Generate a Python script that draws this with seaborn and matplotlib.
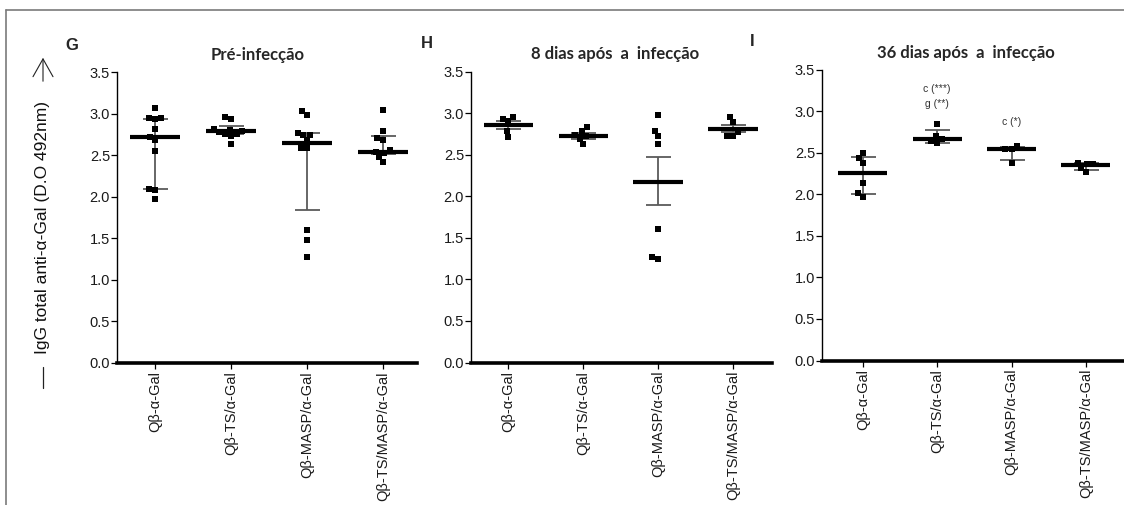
import numpy as np
import pandas as pd
import matplotlib
matplotlib.use("Agg")
import matplotlib.pyplot as plt
import seaborn as sns
from matplotlib.lines import Line2D
from matplotlib.patches import FancyArrowPatch

# ---------------- data ----------------
categories = ["Qβ-α-Gal", "Qβ-TS/α-Gal", "Qβ-MASP/α-Gal", "Qβ-TS/MASP/α-Gal"]

g_vals = [[3.07, 2.95, 2.95, 2.94, 2.82, 2.72, 2.68, 2.55, 2.09, 2.08, 1.97],
          [2.96, 2.93, 2.81, 2.80, 2.79, 2.78, 2.76, 2.75, 2.73, 2.64],
          [3.03, 2.98, 2.77, 2.74, 2.74, 2.68, 2.58, 2.58, 1.60, 1.48, 1.27],
          [3.04, 2.79, 2.71, 2.68, 2.56, 2.54, 2.53, 2.48, 2.42]]
g_center = [2.72, 2.79, 2.65, 2.54]
g_low = [2.09, 2.76, 1.84, 2.51]
g_high = [2.94, 2.85, 2.77, 2.73]

h_vals = [[2.95, 2.93, 2.90, 2.78, 2.71],
          [2.83, 2.78, 2.74, 2.72, 2.69, 2.63],
          [2.98, 2.78, 2.72, 2.63, 1.60, 1.27, 1.24],
          [2.95, 2.89, 2.77, 2.73, 2.73]]
h_center = [2.86, 2.73, 2.17, 2.81]
h_low = [2.81, 2.69, 1.89, 2.77]
h_high = [2.90, 2.76, 2.47, 2.86]

i_vals = [[2.50, 2.43, 2.37, 2.13, 2.01, 1.97],
          [2.84, 2.70, 2.67, 2.64, 2.62],
          [2.58, 2.54, 2.54, 2.37],
          [2.38, 2.36, 2.36, 2.32, 2.27]]
i_center = [2.25, 2.67, 2.54, 2.35]
i_low = [2.00, 2.62, 2.41, 2.29]
i_high = [2.45, 2.77, 2.57, 2.38]

titles = ["Pré-infecção", "8 dias após  a  infecção", "36 dias após  a  infecção"]
letters = ["G", "H", "I"]
y_ticks = [0.0, 0.5, 1.0, 1.5, 2.0, 2.5, 3.0, 3.5]
ylabel = "IgG total anti-α-Gal (D.O 492nm)"
annot_texts = ["c (***)", "g (**)", "c (*)"]
annot_cat = [1, 1, 2]
annot_y = [3.27, 3.08, 2.87]

# ---------------- style ----------------
sns.set_style("ticks")
plt.rcParams["font.family"] = ["Liberation Sans", "DejaVu Sans"]

W, H = 1124, 505
fig = plt.figure(figsize=(W / 100, H / 100), dpi=100)

def fx(px):
    return px / W

def fy(py):
    return 1 - py / H

# axes geometry in pixels: left, right, top(3.5), bottom(0)
boxes = [(117, 417, 72, 363), (471, 772, 71.5, 362.5), (822, 1123, 69.5, 360.5)]
xlims = [(-0.5, 3.45), (-0.5, 3.52), (-0.55, 3.5)]
panels = [(g_vals, g_center, g_low, g_high),
          (h_vals, h_center, h_low, h_high),
          (i_vals, i_center, i_low, i_high)]
title_pos = [(258, 55), (615, 54), (966, 53)]
letter_pos = [(72, 45), (427, 44), (752, 42)]

for k, ((vals, center, low, high), (l, r, t, b)) in enumerate(zip(panels, boxes)):
    ax = fig.add_axes([fx(l), fy(b), fx(r - l), (b - t) / H])
    df = pd.DataFrame({
        "group": np.repeat(categories, [len(v) for v in vals]),
        "value": np.concatenate([np.asarray(v) for v in vals]),
    })
    sns.swarmplot(data=df, x="group", y="value", order=categories, marker="s",
                  size=4.3, color="black", linewidth=0, ax=ax, zorder=3)
    pos = np.arange(len(categories))
    c = np.asarray(center)
    lo = np.asarray(low)
    hi = np.asarray(high)
    ax.errorbar(pos, c, yerr=[c - lo, hi - c], fmt="none", ecolor="#5a5a5a",
                elinewidth=1.3, capsize=9, capthick=1.3, zorder=2)
    ax.hlines(c, pos - 0.33, pos + 0.33, colors="black", linewidth=3, zorder=4)

    ax.set_xlim(*xlims[k])
    ax.set_ylim(0, 3.5)
    ax.set_yticks(y_ticks)
    ax.set_yticklabels([f"{v:.1f}" for v in y_ticks], fontsize=10.5, color="#1a1a1a")
    ax.set_xticks(pos)
    ax.set_xticklabels(categories, rotation=90, fontsize=10.5, color="#1a1a1a")
    ax.set_xlabel("")
    ax.set_ylabel("")
    for s in ["top", "right"]:
        ax.spines[s].set_visible(False)
    ax.spines["left"].set_linewidth(1.0)
    ax.spines["left"].set_color("black")
    ax.spines["bottom"].set_linewidth(2.6)
    ax.spines["bottom"].set_color("black")
    ax.tick_params(axis="y", length=4, width=0.9, color="black", pad=1)
    ax.tick_params(axis="x", length=4, width=0.9, color="black", pad=2)
    ax.patch.set_alpha(0)

    tx, ty = title_pos[k]
    fig.text(fx(tx), fy(ty), titles[k], ha="center", va="center",
             fontsize=12, fontweight="bold", family=["Lato", "DejaVu Sans"])
    lx, ly = letter_pos[k]
    fig.text(fx(lx), fy(ly), letters[k], ha="center", va="center",
             fontsize=12, fontweight="bold")

    if k == 2:
        for txt, ci, yv in zip(annot_texts, annot_cat, annot_y):
            ax.text(ci, yv, txt, ha="center", va="center", fontsize=7.5,
                    color="#333333")

# y label with arrow and dash
fig.text(fx(43), fy(228), ylabel, rotation=90, ha="center", va="center",
         fontsize=12.5, color="#111111")
fig.add_artist(FancyArrowPatch((fx(43), fy(84)), (fx(43), fy(55)),
                               transform=fig.transFigure,
                               arrowstyle="->,head_length=0.8,head_width=0.45",
                               mutation_scale=16, lw=0.8, color="#222222"))
fig.add_artist(Line2D([fx(43), fx(43)], [fy(367), fy(388)],
                      transform=fig.transFigure, lw=0.9, color="#222222"))

# outer frame (top and left)
fig.add_artist(Line2D([fx(6), 1.0], [fy(10), fy(10)], transform=fig.transFigure,
                      lw=1.2, color="#7a7a7a"))
fig.add_artist(Line2D([fx(6), fx(6)], [fy(10), 0.0], transform=fig.transFigure,
                      lw=1.2, color="#7a7a7a"))

fig.savefig("out.png", dpi=100)
